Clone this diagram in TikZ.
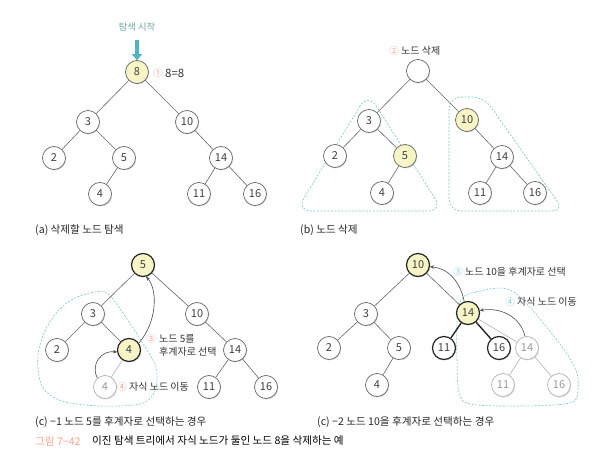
\documentclass[tikz,border=0pt]{standalone}
\usepackage{fontspec}
\newfontfamily\kr{Noto Sans CJK KR}
\usetikzlibrary{shadows,arrows.meta}
\definecolor{hlyellow}{HTML}{F7F4C6}
\definecolor{dashteal}{HTML}{7CC5CB}
\definecolor{salmon}{HTML}{F4A393}
\definecolor{lblue}{HTML}{8FCBE0}
\definecolor{tealarrow}{HTML}{4FB3C0}
\definecolor{tealtext}{HTML}{6FA7A0}
\begin{document}
\begin{tikzpicture}[x=1pt,y=-1pt,
  nd/.style={circle, draw=black!60, line width=0.7pt, fill=white, minimum size=23pt, inner sep=0pt,
    font=\kr\fontsize{11}{12}\selectfont, text=black!75,
    drop shadow={shadow xshift=0.7pt, shadow yshift=-0.9pt, fill=black!30}},
  hl/.style={fill=hlyellow},
  bd/.style={draw=black!85, line width=1.2pt},
  gh/.style={draw=black!30, text=black!40, drop shadow={shadow xshift=0.7pt, shadow yshift=-0.9pt, fill=black!10}},
  edge/.style={draw=black!60, line width=0.6pt},
  tedge/.style={draw=black!85, line width=1.4pt},
  gedge/.style={draw=black!30, line width=0.6pt},
  reg/.style={draw=dashteal, line width=0.6pt, dash pattern=on 2pt off 1.5pt},
  curvearrow/.style={draw=black!70, line width=0.6pt, -{Stealth[length=4pt,width=3.5pt]}},
  captext/.style={font=\kr\fontsize{10.6}{12}\selectfont, text=black!85, inner sep=0pt, anchor=west},
  lbl/.style={font=\kr\fontsize{10}{12}\selectfont, text=black!80, inner sep=0pt, anchor=west},
  cn/.style={font=\kr\fontsize{9.5}{10}\selectfont, inner sep=0pt}
]
\useasboundingbox (0,0) rectangle (600,457);

% ---------------- Panel (a)
\node[nd,hl] (a8) at (137,72) {8};
\node[nd] (a3) at (88,122) {3};
\node[nd] (a10) at (187,122) {10};
\node[nd] (a2) at (54,158) {2};
\node[nd] (a5) at (124,158) {5};
\node[nd] (a14) at (221,158) {14};
\node[nd] (a4) at (100,194) {4};
\node[nd] (a11) at (199,194) {11};
\node[nd] (a16) at (255,194) {16};
\draw[edge] (a8) -- (a3); \draw[edge] (a8) -- (a10);
\draw[edge] (a3) -- (a2); \draw[edge] (a3) -- (a5);
\draw[edge] (a5) -- (a4); \draw[edge] (a10) -- (a14);
\draw[edge] (a14) -- (a11); \draw[edge] (a14) -- (a16);
\node[font=\kr\fontsize{9.3}{10}\selectfont, text=tealtext, inner sep=0pt] (astart) at (137,27) {탐색 시작};
\coordinate (atop) at (137,40);
\draw[tealarrow, line width=3.5pt, -{Triangle[width=10pt,length=6pt]}] (atop) -- (a8.north);
\node[cn, text=salmon] (a1) at (158,73) {①};
\node[lbl, font=\kr\fontsize{11.5}{12}\selectfont] (aeq) at (165,73) {8=8};
\node[captext] (capa) at (35,230) {(a) 삭제할 노드 탐색};

% ---------------- Panel (b)
\draw[reg, rounded corners=15pt] (368,93) -- (296,211) -- (443,211) -- cycle;
\draw[reg, rounded corners=12pt] (449,97) -- (484,97) -- (564,211) -- (449,211) -- cycle;
\node[nd] (broot) at (418,71) {};
\node[nd] (b3) at (369,121) {3};
\node[nd,hl] (b10) at (467,120) {10};
\node[nd] (b2) at (335,156) {2};
\node[nd,hl] (b5) at (405,156) {5};
\node[nd] (b14) at (502,157) {14};
\node[nd] (b4) at (382,193) {4};
\node[nd] (b11) at (480,193) {11};
\node[nd] (b16) at (535,193) {16};
\draw[edge] (broot) -- (b3); \draw[edge] (broot) -- (b10);
\draw[edge] (b3) -- (b2); \draw[edge] (b3) -- (b5);
\draw[edge] (b5) -- (b4); \draw[edge] (b10) -- (b14);
\draw[edge] (b14) -- (b11); \draw[edge] (b14) -- (b16);
\node[cn, text=salmon] (b2n) at (394,51) {②};
\node[lbl] (blbl) at (401,51) {노드 삭제};
\node[captext] (capb) at (300,230) {(b) 노드 삭제};

% ---------------- Panel (c)-1
\draw[reg] plot[smooth cycle, tension=0.55] coordinates {(95,292) (112,298) (150,355) (157,373) (154,393) (140,404) (100,406) (62,401) (42,386) (38,355) (48,325) (68,302)};
\node[nd,hl,bd] (c5) at (143,265) {5};
\node[nd] (c3) at (93,314) {3};
\node[nd] (c10) at (197,314) {10};
\node[nd] (c2) at (57,350) {2};
\node[nd,hl,bd] (c4) at (129,350) {4};
\node[nd] (c14) at (235,350) {14};
\node[nd,gh] (g4) at (105,387) {4};
\node[nd] (c11) at (209,387) {11};
\node[nd] (c16) at (266,387) {16};
\draw[edge] (c5) -- (c3); \draw[edge] (c5) -- (c10);
\draw[edge] (c3) -- (c2); \draw[edge] (c3) -- (c4);
\draw[gedge] (c4) -- (g4); \draw[edge] (c10) -- (c14);
\draw[edge] (c14) -- (c11); \draw[edge] (c14) -- (c16);
\draw[curvearrow] (c4.35) .. controls (157,322) and (158,290) .. (c5.-75);
\draw[curvearrow] (g4.130) .. controls (90,364) and (102,350) .. (c4.190);
\node[cn, text=salmon] (c3n) at (151,339) {③};
\node[lbl] (clbl1) at (159,339) {노드 5를};
\node[lbl] (clbl2) at (159,352) {후계자로 선택};
\node[cn, text=salmon] (c4n) at (122,387) {④};
\node[lbl] (clbl3) at (129,387) {자식 노드 이동};
\node[captext] (capc1) at (35,422) {(c) −1 노드 5를 후계자로 선택하는 경우};

% ---------------- Panel (c)-2
\draw[reg] plot[smooth cycle, tension=0.55] coordinates {(461,300) (476,292) (512,291) (553,335) (575,368) (578,390) (570,403) (520,406) (470,404) (459,392) (457,360) (457,322)};
\node[nd,hl,bd] (d10) at (418,265) {10};
\node[nd] (d3) at (366,314) {3};
\node[nd,hl,bd] (d14) at (468,313) {14};
\node[nd] (d2) at (329,348) {2};
\node[nd] (d5) at (399,348) {5};
\node[nd,bd] (d11) at (444,348) {11};
\node[nd,bd] (d16) at (499,348) {16};
\node[nd,gh] (g14) at (527,348) {14};
\node[nd] (d4) at (377,385) {4};
\node[nd,gh] (g11) at (503,385) {11};
\node[nd,gh] (g16) at (559,385) {16};
\draw[edge] (d10) -- (d3); \draw[edge] (d10) -- (d14);
\draw[edge] (d3) -- (d2); \draw[edge] (d3) -- (d5);
\draw[edge] (d5) -- (d4);
\draw[tedge] (d14) -- (d11); \draw[tedge] (d14) -- (d16);
\draw[gedge] (d14) -- (g14);
\draw[gedge] (g14) -- (g11); \draw[gedge] (g14) -- (g16);
\draw[curvearrow] (d14.108) .. controls (461,286) and (452,269) .. (d10.-8);
\draw[curvearrow] (g14.100) .. controls (521,318) and (502,307) .. (d14.12);
\node[cn, text=lblue] (d3n) at (458,272) {③};
\node[lbl] (dlbl1) at (465,272) {노드 10을 후계자로 선택};
\node[cn, text=lblue] (d4n) at (510,302) {④};
\node[lbl] (dlbl2) at (517,302) {자식 노드 이동};
\node[captext] (capc2) at (317,422) {(c) −2 노드 10을 후계자로 선택하는 경우};

% ---------------- Figure caption
\node[captext, text=salmon] (figno) at (35,441) {그림 7−42};
\node[captext, text=black] (figtxt) at (92,441) {이진 탐색 트리에서 자식 노드가 둘인 노드 8을 삭제하는 예};
\end{tikzpicture}
\end{document}
